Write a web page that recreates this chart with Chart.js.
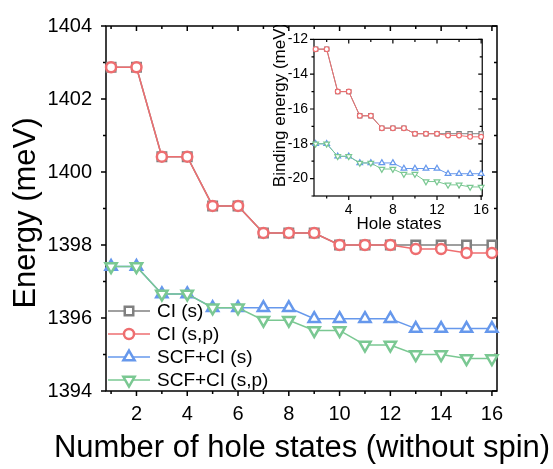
<!DOCTYPE html>
<html>
<head>
<meta charset="utf-8">
<script src="https://cdn.jsdelivr.net/npm/chart.js@4.4.1/dist/chart.umd.min.js"></script>
<style>
  html, body { margin: 0; padding: 0; background: #fff; }
  #contenedor { position: relative; width: 553px; height: 469px; }
  #principal { position: absolute; left: 0; top: 0; width: 553px; height: 469px; }
  #inserto { position: absolute; left: 255px; top: 25px; width: 240px; height: 215px; }
</style>
</head>
<body>
<div id="contenedor">
  <canvas id="principal" width="553" height="469"></canvas>
  <canvas id="inserto" width="240" height="215"></canvas>
</div>
<script>
// === Datos de la gráfica principal ===
const estados = [1, 2, 3, 4, 5, 6, 7, 8, 9, 10, 11, 12, 13, 14, 15, 16];
const etiquetasSeries = ['CI (s)', 'CI (s,p)', 'SCF+CI (s)', 'SCF+CI (s,p)'];

const energiaCIs = [1402.87, 1402.87, 1400.42, 1400.42, 1399.07, 1399.07, 1398.33, 1398.33, 1398.33, 1398.0, 1398.0, 1398.0, 1398.0, 1398.0, 1398.0, 1398.0];
const energiaCIsp = [1402.87, 1402.87, 1400.42, 1400.42, 1399.07, 1399.07, 1398.33, 1398.33, 1398.33, 1398.0, 1398.0, 1398.0, 1397.89, 1397.89, 1397.78, 1397.78];
const energiaSCFs = [1397.41, 1397.41, 1396.66, 1396.66, 1396.28, 1396.28, 1396.28, 1396.28, 1395.98, 1395.98, 1395.98, 1395.98, 1395.71, 1395.71, 1395.71, 1395.71];
const energiaSCFsp = [1397.41, 1397.41, 1396.66, 1396.66, 1396.28, 1396.28, 1395.94, 1395.94, 1395.66, 1395.66, 1395.26, 1395.26, 1395.0, 1395.0, 1394.89, 1394.89];

const ticksXPrincipal = [2, 4, 6, 8, 10, 12, 14, 16];
const ticksXPrincipalMenores = [1, 3, 5, 7, 9, 11, 13, 15];
const ticksYPrincipal = [1394, 1396, 1398, 1400, 1402, 1404];
const ticksYPrincipalMenores = [1395, 1397, 1399, 1401, 1403];

// === Datos del recuadro (energía de enlace) ===
const enlaceCIs = [-12.56, -12.56, -15.0, -15.0, -16.39, -16.39, -17.1, -17.1, -17.1, -17.42, -17.42, -17.42, -17.42, -17.42, -17.42, -17.42];
const enlaceCIsp = [-12.56, -12.56, -15.0, -15.0, -16.39, -16.39, -17.1, -17.1, -17.1, -17.42, -17.42, -17.42, -17.52, -17.52, -17.6, -17.6];
const enlaceSCFs = [-18.0, -18.0, -18.72, -18.72, -19.1, -19.1, -19.1, -19.1, -19.42, -19.42, -19.42, -19.42, -19.72, -19.72, -19.72, -19.72];
const enlaceSCFsp = [-18.0, -18.0, -18.72, -18.72, -19.1, -19.1, -19.45, -19.45, -19.74, -19.74, -20.17, -20.17, -20.36, -20.36, -20.48, -20.48];

const ticksXInserto = [4, 8, 12, 16];
const ticksXInsertoMenores = [2, 6, 10, 14];
const ticksYInserto = [-20, -18, -16, -14, -12];
const ticksYInsertoMenores = [-21, -19, -17, -15, -13];

// === Estilos ===
const FUENTE = "Arial, 'Liberation Sans', sans-serif";
const colores = ['rgb(128,128,128)', 'rgb(238,110,112)', 'rgb(102,152,236)', 'rgb(122,200,146)'];
const estilosPunto = ['rect', 'circle', 'triangle', 'triangle'];
const rotaciones = [0, 0, 0, 180];

function dibujarMarcador(ctx, estilo, rotacion, r, x, y) {
  ctx.beginPath();
  if (estilo === 'circle') {
    ctx.arc(x, y, r, 0, Math.PI * 2);
  } else if (estilo === 'rect') {
    const s = r * Math.SQRT1_2;
    ctx.rect(x - s, y - s, 2 * s, 2 * s);
  } else {
    const giro = (rotacion * Math.PI) / 180;
    for (let k = 0; k < 3; k++) {
      const ang = giro - Math.PI / 2 + (k * 2 * Math.PI) / 3;
      const px = x + r * Math.cos(ang);
      const py = y + r * Math.sin(ang);
      if (k === 0) ctx.moveTo(px, py); else ctx.lineTo(px, py);
    }
    ctx.closePath();
  }
  ctx.fill();
  ctx.stroke();
}

// === Plugin: marco con marcas en los cuatro lados ===
const pluginMarco = {
  id: 'marco',
  beforeDatasetsDraw(chart, args, op) {
    const { ctx, chartArea: a, scales } = chart;
    ctx.save();
    ctx.strokeStyle = '#000';
    ctx.lineWidth = op.grosor;
    ctx.strokeRect(a.left, a.top, a.right - a.left, a.bottom - a.top);

    const marcasX = (valores, largo) => valores.forEach(v => {
      const p = scales.x.getPixelForValue(v);
      ctx.beginPath();
      ctx.moveTo(p, a.bottom); ctx.lineTo(p, a.bottom + largo);
      ctx.moveTo(p, a.top); ctx.lineTo(p, a.top + largo);
      ctx.stroke();
    });
    const marcasY = (valores, largo) => valores.forEach(v => {
      const p = scales.y.getPixelForValue(v);
      ctx.beginPath();
      ctx.moveTo(a.left, p); ctx.lineTo(a.left - largo, p);
      ctx.moveTo(a.right, p); ctx.lineTo(a.right - largo, p);
      ctx.stroke();
    });
    marcasX(op.xMayores, op.largo);
    marcasX(op.xMenores, op.largoMenor);
    marcasY(op.yMayores, op.largo);
    marcasY(op.yMenores, op.largoMenor);
    ctx.restore();
  }
};

// === Plugin: títulos de ejes sin compresión ===
const pluginTitulos = {
  id: 'titulos',
  afterDraw(chart, args, op) {
    const { ctx } = chart;
    ctx.save();
    ctx.fillStyle = '#000';
    ctx.font = op.tamano + 'px ' + FUENTE;
    ctx.textAlign = 'center';
    ctx.textBaseline = 'middle';
    ctx.fillText(op.textoX, op.xX, op.yX);
    ctx.translate(op.xY, op.yY);
    ctx.rotate(-Math.PI / 2);
    ctx.fillText(op.textoY, 0, 0);
    ctx.restore();
  }
};

// === Plugin: leyenda dentro del área ===
const pluginLeyenda = {
  id: 'leyendaInterna',
  afterDatasetsDraw(chart, args, op) {
    const { ctx } = chart;
    chart.data.datasets.forEach((ds, i) => {
      const yy = op.y + i * op.paso;
      ctx.save();
      ctx.strokeStyle = ds.borderColor;
      ctx.lineWidth = ds.borderWidth;
      ctx.beginPath();
      ctx.moveTo(op.x, yy);
      ctx.lineTo(op.x + op.largo, yy);
      ctx.stroke();
      ctx.fillStyle = '#fff';
      ctx.lineWidth = ds.pointBorderWidth;
      dibujarMarcador(ctx, ds.pointStyle, ds.rotation, ds.pointRadius, op.x + op.largo / 2, yy);
      ctx.fillStyle = '#000';
      ctx.font = op.tamano + 'px ' + FUENTE;
      ctx.textBaseline = 'middle';
      ctx.fillText(ds.label, op.x + op.largo + op.separacion, yy + 1);
      ctx.restore();
    });
  }
};

function crearSeries(valores, radios, grosorLinea, grosorPunto) {
  return valores.map((serie, i) => ({
    label: etiquetasSeries[i],
    data: estados.map((e, j) => ({ x: e, y: serie[j] })),
    borderColor: colores[i],
    borderWidth: grosorLinea,
    pointStyle: estilosPunto[i],
    rotation: rotaciones[i],
    pointRadius: radios[i],
    pointBorderWidth: grosorPunto,
    pointBackgroundColor: '#fff',
    pointBorderColor: colores[i],
    order: 4 - i,
    clip: false,
  }));
}

function crearEje(min, max, marcas, ajuste, relleno, tamanoTicks) {
  return {
    type: 'linear',
    min: min,
    max: max,
    afterBuildTicks: escala => { escala.ticks = marcas.map(v => ({ value: v })); },
    afterFit: ajuste,
    grid: { display: false, drawTicks: false },
    border: { display: false },
    ticks: {
      color: '#000',
      padding: relleno,
      font: { family: FUENTE, size: tamanoTicks },
      autoSkip: false,
      maxRotation: 0,
      callback: v => String(v),
    },
  };
}

// === Gráfica principal ===
new Chart(document.getElementById('principal'), {
  type: 'line',
  data: { datasets: crearSeries([energiaCIs, energiaCIsp, energiaSCFs, energiaSCFsp], [6, 5, 6.5, 6.5], 1.5, 2.5) },
  options: {
    responsive: false,
    animation: false,
    devicePixelRatio: 1,
    layout: { padding: { left: 0, top: 23, right: 56, bottom: 0 } },
    plugins: {
      legend: { display: false },
      tooltip: { enabled: false },
      marco: {
        grosor: 1.5, largo: 5, largoMenor: 3,
        xMayores: ticksXPrincipal, xMenores: ticksXPrincipalMenores,
        yMayores: ticksYPrincipal, yMenores: ticksYPrincipalMenores,
      },
      titulos: {
        tamano: 31,
        textoX: 'Number of hole states (without spin)', xX: 302, yX: 448,
        textoY: 'Energy (meV)', xY: 26, yY: 213,
      },
      leyendaInterna: { x: 108, y: 311, paso: 23, largo: 42, separacion: 7, tamano: 19 },
    },
    scales: {
      x: crearEje(0.8, 16.2, ticksXPrincipal, e => { e.height = 78; }, 11, 20),
      y: crearEje(1394, 1404, ticksYPrincipal, e => { e.width = 106; }, 14, 20),
    },
  },
  plugins: [pluginMarco, pluginLeyenda, pluginTitulos],
});

// === Recuadro ===
new Chart(document.getElementById('inserto'), {
  type: 'line',
  data: { datasets: crearSeries([enlaceCIs, enlaceCIsp, enlaceSCFs, enlaceSCFsp], [3, 2.4, 3.3, 3.3], 1, 1.2) },
  options: {
    responsive: false,
    animation: false,
    devicePixelRatio: 1,
    layout: { padding: { left: 0, top: 12, right: 12, bottom: 0 } },
    plugins: {
      legend: { display: false },
      tooltip: { enabled: false },
      marco: {
        grosor: 1.2, largo: 4, largoMenor: 2.5,
        xMayores: ticksXInserto, xMenores: ticksXInsertoMenores,
        yMayores: ticksYInserto, yMenores: ticksYInsertoMenores,
      },
      titulos: {
        tamano: 17,
        textoX: 'Hole states', xX: 144, yX: 199,
        textoY: 'Binding energy (meV)', xY: 25, yY: 80,
      },
    },
    scales: {
      x: crearEje(0.85, 16.1, ticksXInserto, e => { e.height = 44; }, 6, 14),
      y: crearEje(-21, -12, ticksYInserto, e => { e.width = 59; }, 6, 14),
    },
  },
  plugins: [pluginMarco, pluginTitulos],
});
</script>
</body>
</html>
